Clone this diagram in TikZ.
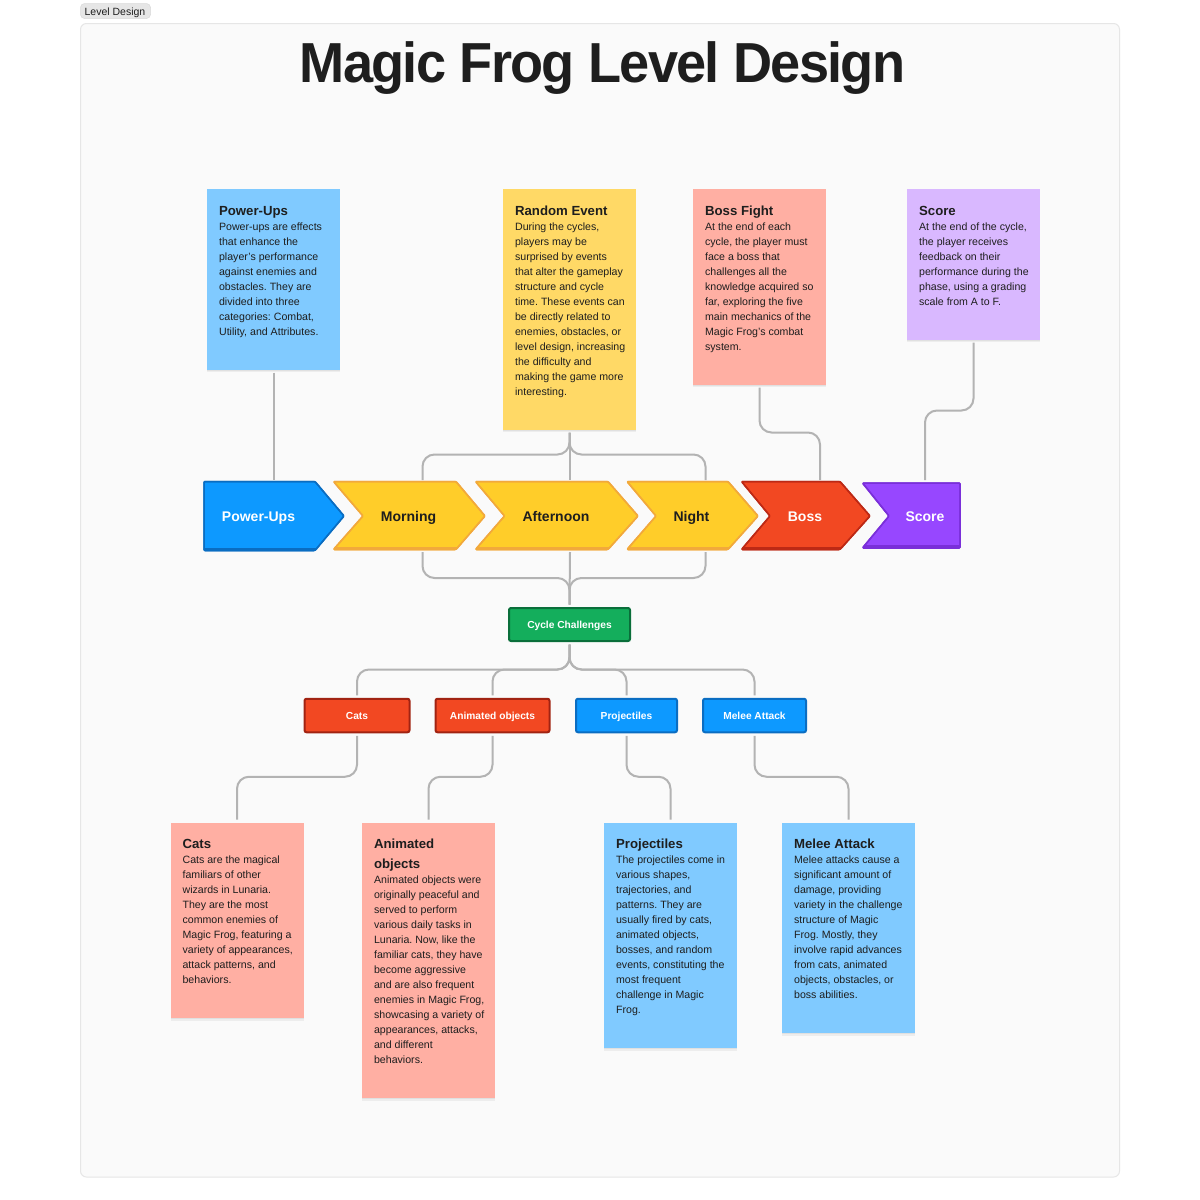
\documentclass[tikz,border=0pt]{standalone}
\usepackage{fontspec}
\setmainfont{Liberation Sans}
\newfontfamily\titlefont[FakeStretch=0.96,LetterSpace=-3,BoldFont={Liberation Sans Bold}]{Liberation Sans}
\usetikzlibrary{shadows}
\definecolor{pagebg}{HTML}{FFFFFF}
\definecolor{framebg}{HTML}{FAFAFA}
\definecolor{frameln}{HTML}{E6E6E6}
\definecolor{tagbg}{HTML}{E6E6E6}
\definecolor{tagln}{HTML}{D9D9D9}
\definecolor{ink}{HTML}{1E1E1E}
\definecolor{conncol}{HTML}{B3B3B3}
\definecolor{noteblue}{HTML}{80CAFF}
\definecolor{noteyellow}{HTML}{FFD966}
\definecolor{notered}{HTML}{FFAFA3}
\definecolor{notepurple}{HTML}{D9B8FF}
\definecolor{cblue}{HTML}{0D99FF}
\definecolor{dblue}{HTML}{0A6DC2}
\definecolor{cyellow}{HTML}{FFCD29}
\definecolor{dyellow}{HTML}{F2A93B}
\definecolor{cred}{HTML}{F24822}
\definecolor{dred}{HTML}{BD2915}
\definecolor{cpurple}{HTML}{9747FF}
\definecolor{dpurple}{HTML}{7A2FD9}
\definecolor{cgreen}{HTML}{14AE5C}
\definecolor{dgreen}{HTML}{0A6E3A}
\tikzset{
  conn/.style={draw=conncol,line width=2pt,rounded corners=12pt},
  notebox/.style={anchor=north west,inner sep=0pt,outer sep=3pt,text=ink,
    drop shadow={shadow xshift=0pt,shadow yshift=-2.5pt,opacity=.05,fill=black},
    drop shadow={shadow xshift=0pt,shadow yshift=-1pt,opacity=.05,fill=black}},
  chevlabel/.style={inner sep=0pt,outer sep=2pt,minimum width=40pt,text height=10pt,text depth=0pt,
    font=\fontsize{14}{16}\selectfont\bfseries},
  smallbox/.style={rounded corners=2pt,line width=2pt,inner sep=0pt,outer sep=3.5pt,text=white,
    text height=7.6pt,text depth=0pt,font=\fontsize{10.2}{13}\selectfont\bfseries},
  chevshape/.style={line width=1.5pt,rounded corners=1pt,line join=round}
}
% \notecard{name}{x}{y}{h}{fill}{title}{body}
\newcommand{\notecard}[7]{%
  \node[notebox,fill=#5,minimum width=133pt,minimum height=#4pt] (#1) at (#2-3,#3-3)
  {\hspace{10.2pt}\parbox[c][#4pt][t]{119pt}{\raggedright\frenchspacing\fontsize{13.2}{20}\selectfont\bfseries\rule{0pt}{26pt}#6\par
   \fontsize{10.6}{15}\selectfont\mdseries #7\par}\hspace{0.8pt}};}
% \chevron{name}{points}{top}{bottom}{fill}{dark}{textx}{textcolor}{label}
\newcommand{\chevron}[9]{%
  \path[fill=#5,draw=#6,chevshape] #2 -- cycle;
  \begin{scope}\clip #2 -- cycle;
    \fill[#6] (150,#4) rectangle (1000,#4-3);
  \end{scope}
  \draw[#6,chevshape] #2 -- cycle;
  \node[chevlabel,text=#8,minimum height=68pt] (#1) at (#7,516) {#9};}
\begin{document}
\begin{tikzpicture}[x=1pt,y=-1pt]
\useasboundingbox (0,0) rectangle (1200,1200);
\fill[pagebg] (0,0) rectangle (1200,1200);
\path[fill=framebg,draw=frameln,line width=1pt,rounded corners=6pt] (80.5,23.5) rectangle (1119.5,1177);
\path[fill=tagbg,draw=tagln,line width=.5pt,rounded corners=4pt] (80.5,3.5) rectangle (150.5,18.5);
\node[inner sep=0pt,anchor=base,text=ink,font=\fontsize{10.5}{12}\selectfont] (tag) at (115,15.8) {Level Design};
\node[inner sep=0pt,anchor=base,text=ink,font=\titlefont\fontsize{56.4}{60}\selectfont\bfseries] (title) at (602.5,82) {Magic Frog Level Design};

\notecard{punote}{207}{189}{180.5}{noteblue}{Power-Ups}{Power-ups are effects\\that enhance the\\player's performance\\against enemies and\\obstacles. They are\\divided into three\\categories: Combat,\\Utility, and Attributes.}
\notecard{renote}{503}{189}{240.5}{noteyellow}{Random Event}{During the cycles,\\players may be\\surprised by events\\that alter the gameplay\\structure and cycle\\time. These events can\\be directly related to\\enemies, obstacles, or\\level design, increasing\\the difficulty and\\making the game more\\interesting.}
\notecard{bfnote}{693}{189}{195.5}{notered}{Boss Fight}{At the end of each\\cycle, the player must\\face a boss that\\challenges all the\\knowledge acquired so\\far, exploring the five\\main mechanics of the\\Magic Frog's combat\\system.}
\notecard{scnote}{907}{189}{150.5}{notepurple}{Score}{At the end of the cycle,\\the player receives\\feedback on their\\performance during the\\phase, using a grading\\scale from A to F.}
\notecard{catnote}{170.5}{822.5}{195.5}{notered}{Cats}{Cats are the magical\\familiars of other\\wizards in Lunaria.\\They are the most\\common enemies of\\Magic Frog, featuring a\\variety of appearances,\\attack patterns, and\\behaviors.}
\notecard{anote}{362}{822.5}{275.5}{notered}{Animated\\objects}{Animated objects were\\originally peaceful and\\served to perform\\various daily tasks in\\Lunaria. Now, like the\\familiar cats, they have\\become aggressive\\and are also frequent\\enemies in Magic Frog,\\showcasing a variety of\\appearances, attacks,\\and different\\behaviors.}
\notecard{prnote}{604}{822.5}{225.5}{noteblue}{Projectiles}{The projectiles come in\\various shapes,\\trajectories, and\\patterns. They are\\usually fired by cats,\\animated objects,\\bosses, and random\\events, constituting the\\most frequent\\challenge in Magic\\Frog.}
\notecard{menote}{782}{822.5}{210.5}{noteblue}{Melee Attack}{Melee attacks cause a\\significant amount of\\damage, providing\\variety in the challenge\\structure of Magic\\Frog. Mostly, they\\involve rapid advances\\from cats, animated\\objects, obstacles, or\\boss abilities.}

\chevron{pu}{(204,481.5) -- (315,481.5) -- (344,516) -- (315,550.5) -- (204,550.5)}{481.5}{550.5}{cblue}{dblue}{258.5}{white}{Power-Ups}
\chevron{mo}{(333.5,481.5) -- (456,481.5) -- (485,516) -- (456,549.5) -- (333.5,549.5) -- (363,516)}{481.5}{549.5}{cyellow}{dyellow}{408.5}{ink}{Morning}
\chevron{af}{(475.5,481.5) -- (608,481.5) -- (638,516) -- (608,549.5) -- (475.5,549.5) -- (504.5,516)}{481.5}{549.5}{cyellow}{dyellow}{556}{ink}{Afternoon}
\chevron{ni}{(627,481.5) -- (728,481.5) -- (758,516) -- (728,549.5) -- (627,549.5) -- (656,516)}{481.5}{549.5}{cyellow}{dyellow}{691.5}{ink}{Night}
\chevron{bo}{(741.5,481.5) -- (840,481.5) -- (870,516) -- (840,549.5) -- (741.5,549.5) -- (770,516)}{481.5}{549.5}{cred}{dred}{805}{white}{Boss}
\chevron{sc}{(862.5,483) -- (960,483) -- (960,548) -- (862.5,548) -- (889,516)}{483}{548}{cpurple}{dpurple}{925}{white}{Score}

\node[smallbox,fill=cgreen,draw=dgreen,minimum width=121pt,minimum height=33pt] (cy) at (569.5,624.5) {Cycle Challenges};
\node[smallbox,fill=cred,draw=dred!85!black,minimum width=105pt,minimum height=33.5pt] (ca) at (357,715.5) {Cats};
\node[smallbox,fill=cred,draw=dred!85!black,minimum width=114pt,minimum height=33.5pt] (an) at (492.5,715.5) {Animated objects};
\node[smallbox,fill=cblue,draw=dblue,minimum width=101pt,minimum height=33.5pt] (pr) at (626.5,715.5) {Projectiles};
\node[smallbox,fill=cblue,draw=dblue,minimum width=103pt,minimum height=33.5pt] (me) at (754.5,715.5) {Melee Attack};

\draw[conn] (punote.south) -- (punote.south |- pu.north);
\draw[conn] (renote.south) -- ++(0,22) -| ([xshift=14pt]mo.north);
\draw[conn] (renote.south) -- (renote.south |- af.north);
\draw[conn] (renote.south) -- ++(0,22) -| ([xshift=14pt]ni.north);
\draw[conn] (bfnote.south) -- ++(0,45) -| ([xshift=15pt]bo.north);
\draw[conn] (scnote.south) -- ++(0,68) -| (sc.north);
\draw[conn] ([xshift=14pt]mo.south) -- ++(0,26) -| (cy.north);
\draw[conn] ([xshift=14pt]af.south) -- (cy.north);
\draw[conn] ([xshift=14pt]ni.south) -- ++(0,26) -| (cy.north);
\draw[conn] (cy.south) -- ++(0,25) -| (ca.north);
\draw[conn] (cy.south) -- ++(0,25) -| (an.north);
\draw[conn] (cy.south) -- ++(0,25) -| (pr.north);
\draw[conn] (cy.south) -- ++(0,25) -| (me.north);
\draw[conn] (ca.south) -- ++(0,41) -| (catnote.north);
\draw[conn] (an.south) -- ++(0,41) -| (anote.north);
\draw[conn] (pr.south) -- ++(0,41) -| (prnote.north);
\draw[conn] (me.south) -- ++(0,41) -| (menote.north);
\end{tikzpicture}
\end{document}
